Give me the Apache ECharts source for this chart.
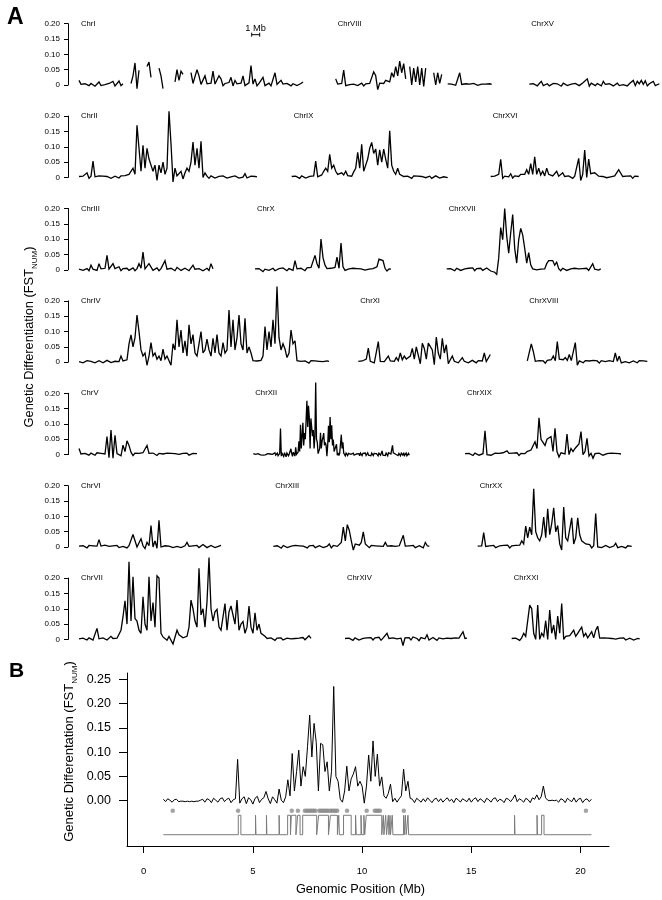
<!DOCTYPE html>
<html><head><meta charset="utf-8">
<script src="https://cdn.jsdelivr.net/npm/echarts@6/dist/echarts.min.js"></script>
<style>html,body{margin:0;padding:0;background:#fff}#c{width:662px;height:900px}</style>
</head><body><div id="c"></div>
<script>
// ---------- DATA (FST_NUM per window) ----------
const STEP_A = 0.25; // Mb between windows, panel A arrays
const chrI = [.015,.002,-.003,.004,.001,-.002,.005,.003,-.004,.002,.01,-.002,.004,.001,-.003,.005,.002,.012,-.003,.003,.013,-.002,.004,
null,null,null,.005,.03,.072,-.012,.048,null,null,null,.06,.075,.025,null,null,null,.055,.03,-.012,null,null,null,null,null,
.01,.05,.015,.045,.035,null,null,null,
.04,.005,.01,.05,.03,.002,.008,.03,.004,-.002,.006,.045,.003,.008,.03,.02,-.002,.005,.003,.008,.025,-.003,.015,.004,.002,.006,.03,-.002,.004,.007,.063,.003,.02,-.003,.005,.002,.025,-.002,.004,.006,-.003,.003,.04,.002,-.004,.015,.003,-.002,.005,.002,-.003,.004,.01,-.002,.003,.005,.01];
const chrVIII = [.02,.003,-.003,.005,.049,-.002,.004,.001,-.004,.003,.005,-.002,.002,.006,-.003,.004,.002,.005,.003,.043,.03,-.015,.006,.01,.005,.015,.02,.01,.04,.025,.06,.03,.078,.04,.07,.02,
null,.06,0,.055,.01,.06,0,.055,-.005,.055,null,null,null,.04,0,.04,.005,.035,null,null,
.004,-.002,.003,.005,-.001,.003,.04,.002,-.003,.004,.001,.003,-.002,.005,.002,-.001,.004,.003,-.002,.003,.001,.004,.002];
const chrXV = [.003,-.002,.004,.001,-.003,.005,.012,-.002,.003,.004,-.003,.002,.005,-.001,.004,.003,-.004,.006,.002,-.002,
.004,.003,-.003,.005,.006,-.002,.004,.008,.003,.02,-.004,.006,.003,-.002,.005,.004,-.003,.012,.002,-.001,
.004,.005,-.003,.003,.006,-.002,.004,.001,.005,-.003,.004,.007,.015,-.002,.012,.004,.015,.002,.014,-.003,.004,.005,.012,-.002,.003,.004];
const chrII = [.003,-.002,.004,.002,.015,-.003,.004,.053,.002,-.003,.005,.001,.004,-.002,.003,.006,-.003,.002,.004,.001,-.002,.005,.003,.006,.002,
.01,.005,.03,.01,.17,.095,.02,.105,.03,.095,.06,.04,.02,.04,-.01,.04,.015,.05,.01,.03,.216,.11,-.015,
.03,.005,.01,.02,-.005,.015,.03,.02,.05,.115,.04,.095,.03,.118,
0,.015,.004,-.003,.005,.002,-.002,.004,.003,-.003,.005,.001,-.002,.004,.002,-.003,.005,.003,-.002,.004,.001,.012,-.002,.003,.004,-.001,.003,.002];
const chrIX = [.003,-.002,.004,.001,-.003,.005,.002,-.002,.004,.003,-.001,.005,.053,.002,.004,.008,.02,.03,.02,.075,.03,.04,.02,
.01,.005,.015,.008,.02,.006,.012,.004,.018,
.03,.082,.03,.108,.02,.04,.06,.095,.114,.078,.093,.04,.09,.05,.092,.06,.03,.152,.04,.02,.01,.03,.01,.005,
.003,-.002,.004,.002,-.003,.005,.001,.004,-.002,.003,.005,-.001,.002,.004,-.003,.003,.005,.001,-.002,.004,.002,.003,-.001];
const chrXVI = [.003,-.002,.004,.002,.01,.059,-.003,.004,.006,.002,.012,-.002,.005,.008,.003,.01,.004,
.01,.025,.01,.045,.01,.067,.01,.03,.008,.02,.005,.03,.01,.015,.005,.008,.02,.004,.008,.015,
.003,-.002,.005,.006,-.003,.004,.008,.062,-.01,.01,.089,0,.06,.012,.008,.015,.01,
.004,-.002,.003,.005,-.001,.004,.002,-.003,.005,.003,.025,.025,.003,-.002,.004,.001,.005,-.003,.004,.002,.003];
const chrIII = [.002,.005,-.002,.003,.004,-.003,.015,.002,.004,-.002,.02,.003,-.003,.005,.047,.002,-.002,.02,.004,.001,.01,-.003,.004,.002,.005,-.002,.003,.006,-.003,.004,
.02,.005,.058,.003,.008,.02,.025,-.002,.004,.006,-.003,.004,.008,.03,.002,-.002,.005,.003,-.003,.008,.002,-.002,.004,.005,.01,-.003,.003,.015,.002,-.002,.004,.008,-.003,.003,.005,-.002,.02,.003];
const chrX = [.003,-.002,.004,.001,-.006,.002,.004,-.002,.003,.005,-.003,.002,.004,-.002,.006,.001,-.003,.004,.005,-.002,.03,.003,-.002,.005,.004,-.003,.006,.003,.008,.01,
.047,.02,.005,.1,.04,.015,.004,-.002,.005,.003,.008,.041,.005,.087,.01,-.002,.004,.003,-.003,.005,.002,.004,-.002,.003,.005,-.001,.004,.002,-.003,.004,.003,.01,.035,.04,.03,.005,-.004,.003,.002];
const chrXVII = [.003,-.002,.004,.002,-.003,.005,.001,-.002,.004,.003,-.002,.005,.002,.006,-.003,.004,.001,.005,-.002,.003,.006,.004,-.004,.002,-.008,-.015,
.038,.138,.098,.2,.11,.054,.12,.18,.07,.022,.098,.135,.114,.07,.022,.056,.016,.003,
.001,0,.001,.002,.001,.003,.02,.03,.025,.03,.015,.025,
.004,-.003,.005,.002,-.002,.004,.003,-.002,.005,.001,.003,-.003,.004,.002,.005,-.002,.003,.02,.002,.004,-.001,.003];
const chrIV = [.002,.004,-.002,.003,.005,-.001,.003,.004,-.002,.002,.005,.003,-.002,.004,.006,.002,-.001,.004,.003,.005,.002,.02,.004,.003,.008,
.06,.089,.05,.08,.154,.1,.04,.02,.03,-.01,.02,.064,.02,.03,.01,.02,.005,.043,.01,.02,.024,-.01,.06,.04,.138,.05,.105,.03,.07,.02,
.122,.06,.09,.03,.02,.06,.1,.03,.04,.075,.04,.02,.078,.03,.09,.03,.02,.064,.03,.04,.17,.05,.138,.04,.08,.154,.06,.04,.143,.03,.05,.03,
.005,.008,.004,.01,.006,.02,.116,.04,.1,.05,.138,.06,.247,.08,.04,.06,.043,.015,.03,.105,.06,.07,.005,.002,
.003,-.002,.004,.002,-.003,.005,.001,.004,-.002,.003,.005,.002,-.002,.004,.003];
const chrXI = [.003,-.002,.004,.002,.01,.046,.003,.005,-.002,.004,.067,.003,.006,.002,.008,.02,.004,.006,.003,.015,.005,.03,.008,.02,.01,.015,
.02,.045,.01,.05,.055,-.005,.062,.045,.01,.062,.067,.04,-.008,.082,.03,.01,.078,.03,.057,-.005,
.008,.02,.003,.005,-.002,.004,.015,.003,.005,-.002,.004,.006,.002,-.002,.005,.003,.004,.03,.002,.005,.025];
const chrXVIII = [.004,.002,.06,.035,.003,-.002,.005,.002,.004,-.003,.006,.003,.008,.02,.005,.067,.01,.004,.008,.015,.006,.025,.005,.01,.064,-.01,
.004,.002,-.002,.005,.003,.004,-.002,.006,.002,.004,-.003,.005,.003,.002,-.002,.005,.004,.002,.03,.003,.02,-.002,.004,.002,.005,-.002,.003,.004,.001,-.002,.005,.003,.004,-.001,.003];
const chrV = [.02,.002,-.003,.004,.001,-.002,.005,.003,-.002,.006,.002,.004,.008,.002,.059,-.01,.08,-.012,.063,.003,.005,-.004,.031,.01,.045,.03,.008,-.003,.005,.002,
.004,-.002,.006,.01,.03,.004,-.002,.005,.003,-.003,.004,.006,.002,-.002,.005,.003,.004,-.002,.003,.005,.001,-.003,.004,.002,.005,-.002,.003,.004,.001,.003];
const chrXIX = [.003,-.002,.004,.002,-.003,.005,.002,-.002,.004,.003,.078,0,.004,-.002,.003,.005,-.001,.004,.002,.006,.008,.012,.004,-.002,.005,.003,.006,-.003,.004,.008,
.003,.01,.006,.015,.02,.042,.02,.12,.05,.04,.03,.05,.056,.059,.01,.086,.01,-.008,.006,.01,.002,.067,0,.02,.01,.02,.015,.035,.075,0,.01,.053,-.005,.004,-.012,
.003,.002,.005,.008,-.002,.004,.003,-.002,.005,.002,.004,-.002,.003,.002];
const chrVI = [.003,-.002,.004,.001,-.003,.005,.002,.004,-.002,.003,.024,.003,-.002,.006,.01,.002,-.003,.004,.003,.005,-.002,.004,.002,.006,-.003,.004,.008,
.041,.035,0,.006,.027,.004,-.005,.015,.004,.07,0,.02,-.004,.087,0,.006,.004,.01,.003,.008,-.002,.004,.002,.005,-.002,.003,.004,.015,.002,-.002,.004,.003,.005,-.002,.004,.008,.002,-.002,.003,.005,.002,-.002,.004,.003,.005];
const chrXIII = [.002,-.003,.004,.001,-.004,.005,.002,-.002,.004,.003,-.003,.005,.002,.004,-.002,.003,.006,-.003,.004,.002,.005,-.002,.003,.004,.01,-.002,.004,.003,.01,-.003,
.005,.004,.002,.008,.015,.065,.02,.073,.054,.02,-.01,.01,.004,.006,.015,.049,.01,.004,-.002,.005,.003,.004,-.002,.003,.005,.002,.015,.003,-.002,.004,
.006,.002,-.002,.004,.008,.038,.003,-.002,.004,.002,.005,-.002,.003,.004,.002,-.003,.015,.004,.002];
const chrXX = [.003,-.002,.004,.047,.002,-.003,.004,.002,.005,-.002,.003,.004,-.002,.005,.003,.006,-.003,.004,.008,.005,.01,.006,.02,.01,
.068,.03,.065,.04,.19,.05,.03,.02,.04,.098,.03,.125,.04,.076,.128,.05,.07,.01,-.01,.13,.03,.02,.02,.095,.01,.03,.095,.04,.02,.02,.01,.005,.008,-.003,.004,.109,0,
.004,-.002,.003,.005,.002,-.002,.004,.003,.012,-.002,.004,.002,.005,-.003,.004,.003,.002];
const chrVII = [.002,-.003,.004,.001,-.002,.005,.003,-.002,.004,.036,.002,-.003,.005,.002,-.002,.004,.01,.003,-.002,.004,.008,
.03,.074,.126,.05,.253,.06,.204,.068,.06,.03,.02,.139,.05,.03,.204,.06,.12,.04,.207,.2,.02,.008,.01,-.003,.01,.004,-.015,-.012,.03,.015,.02,.005,0,
.01,.04,.128,.1,.06,.04,.232,.08,.1,.04,.123,.267,.1,.06,.09,.098,.04,
.03,.03,.117,.03,.09,.109,.104,.05,.128,.03,.05,.058,.02,.04,.109,.04,.02,.087,.03,.05,.02,.02,.01,
.003,-.002,.005,.002,-.003,.004,.001,.005,-.002,.003,.004,-.002,.002,.005,.003,-.002,.004,.002,.006,-.001,.004,.012,.003];
const chrXIV = [.003,-.002,.004,.002,-.003,.005,.002,-.002,.004,.003,-.002,.005,.004,.006,-.002,.005,.003,.007,-.003,.004,.006,.02,.003,-.002,.005,.004,.002,-.003,.004,-.02,
.005,.003,.006,-.002,.008,.004,.003,-.004,.006,.005,.002,.015,-.002,.004,.006,.003,-.003,.005,.008,.002,-.002,.004,.006,.003,-.003,.005,.002,.004,-.002,.025,.003,.004];
const chrXXI = [.003,-.002,.004,.002,-.003,.005,.02,.01,.004,.112,.1,.02,0,.112,0,.02,.01,.061,0,.096,.02,.047,0,.076,.02,.117,0,.01,.005,.012,
.008,.03,.01,.02,.03,.04,.01,.02,.005,.01,.025,.005,.03,.043,.004,-.002,.005,.002,.004,-.002,.003,.005,.001,-.002,.004,.003,.005,-.002,.003,.004,.002,-.002,.004,.003,.002];
// ChrXII (panel A row 5 and panel B), 0.1 Mb windows starting at 0.9 Mb
const CHRXII_START = 0.9, CHRXII_STEP = 0.1;
const chrXII = [.003,-.002,.004,.001,-.003,.002,.003,-.002,
-.001,-.001,-.002,-.001,-.002,-.001,-.002,-.001,-.001,.001,
.003,-.003,.004,.002,-.004,.005,.001,-.003,.004,.006,-.002,.003,.005,-.004,.002,.004,
.085,
-.005,.004,.008,-.006,.006,.002,-.007,.005,.009,-.004,.003,.006,.019,.004,-.006,.008,.002,-.005,.024,.001,-.004,.008,
.043,.01,.097,.02,.06,.104,.03,.07,.05,.111,.176,.09,.159,.12,.02,.118,.115,.06,.08,.02,.06,.235,.05,.04,.003,-.003,.02,.071,.02,.045,.055,.07,.03,.04,.03,-.005,.03,.094,.04,.123,.05,.096,.03,.049,.01,.005,.015,.034,-.002,.005,-.003,.004,.01,.065,.02,.04,.005,
.003,-.004,.005,.001,-.003,.004,-.002,.006,.001,-.004,.003,.005,-.002,.004,-.003,.002,.006,-.001,.003,-.004,.005,.002,-.003,.004,.001,-.002,.005,-.003,.003,.006,-.002,.004,.001,-.004,.005,.002,-.003,.004,.006,-.002,.003,.001,-.004,.005,.003,-.002,.004,
.012,-.002,.004,.001,-.003,.005,.002,-.004,.006,.003,
.012,.002,.008,.03,.006,.001,0,.001,0,.001,
-.003,.004,.002,-.004,.005,.001,-.002,.006,-.003,.003,.005,-.004,.002,.004,-.002,.003];
// Panel B annotations: grey dots (Mb) and high-state intervals (Mb)
const dotPositions = [1.33,4.32,6.78,7.06,7.38,7.46,7.54,7.62,7.70,7.78,7.86,8.04,8.12,8.20,8.28,8.36,8.44,8.54,8.62,8.70,8.78,8.86,9.31,10.21,10.58,10.66,10.74,10.82,11.91,20.25];
const highIntervals = [[4.33,4.45],[5.12,5.14],[5.62,5.64],[6.2,6.22],[6.59,6.72],[6.76,6.97],[7.05,7.16],[7.28,7.92],[8.01,8.46],[8.55,8.87],[8.93,8.96],[9.15,9.5],[9.7,9.73],[9.95,9.98],[10.08,10.12],[10.19,10.9],[10.97,11.0],[11.08,11.12],[11.2,11.23],[11.28,11.3],[11.38,11.41],[11.9,11.93],[11.98,12.02],[12.1,12.13],[16.98,17.0],[18.01,18.03],[18.22,18.33]];
const yTicksA = [0,0.05,0.1,0.15,0.2];
const yTicksB = [0,0.05,0.1,0.15,0.2,0.25];
const xTicksB = [0,5,10,15,20];

// ---------- LAYOUT ----------
const FONT = 'Liberation Sans, Arial, sans-serif';
const PX_PER_MB = 8;
const ROW_ZERO0 = 85, ROW_GAP = 92.4, ROW_H = 61.3;
const layout = [
 ['ChrI', chrI, 0, 79], ['ChrVIII', chrVIII, 0, 335.7], ['ChrXV', chrXV, 0, 529.3],
 ['ChrII', chrII, 1, 79], ['ChrIX', chrIX, 1, 291.7], ['ChrXVI', chrXVI, 1, 490.7],
 ['ChrIII', chrIII, 2, 79], ['ChrX', chrX, 2, 255], ['ChrXVII', chrXVII, 2, 446.7],
 ['ChrIV', chrIV, 3, 79], ['ChrXI', chrXI, 3, 358.3], ['ChrXVIII', chrXVIII, 3, 527.3],
 ['ChrV', chrV, 4, 79], ['ChrXII', chrXII, 4, 253.3, CHRXII_START, CHRXII_STEP], ['ChrXIX', chrXIX, 4, 465],
 ['ChrVI', chrVI, 5, 79], ['ChrXIII', chrXIII, 5, 273.3], ['ChrXX', chrXX, 5, 477.7],
 ['ChrVII', chrVII, 6, 79], ['ChrXIV', chrXIV, 6, 345], ['ChrXXI', chrXXI, 6, 511.7]
];

const grid = [], xAxis = [], yAxis = [], series = [], graphic = [];
const G = (o) => Object.assign({containLabel:false, outerBoundsMode:'none'}, o);

for (let r = 0; r < 7; r++) {
  const top = ROW_ZERO0 + r * ROW_GAP - ROW_H;
  const gi = grid.length;
  grid.push(G({left:68, top:top, width:10, height:ROW_H}));
  xAxis.push({type:'value', gridIndex:gi, min:0, max:1, show:false});
  yAxis.push({type:'value', gridIndex:gi, min:0, max:0.2, position:'left',
    axisLine:{show:true, lineStyle:{color:'#000', width:1}},
    axisTick:{show:true, length:4, lineStyle:{color:'#000', width:1}, customValues:yTicksA},
    axisLabel:{show:true, margin:8, fontSize:8, color:'#000', fontFamily:FONT, customValues:yTicksA,
      formatter:(v)=> v === 0 ? '0' : v.toFixed(2)},
    splitLine:{show:false}});
}

layout.forEach(([name, vals, row, left, start, step]) => {
  start = start === undefined ? 0 : start;
  step = step === undefined ? STEP_A : step;
  const top = ROW_ZERO0 + row * ROW_GAP - ROW_H;
  const len = (vals.length - 1) * step;
  const gi = grid.length;
  grid.push(G({left:left, top:top, width:len * PX_PER_MB, height:ROW_H}));
  xAxis.push({type:'value', gridIndex:gi, min:start, max:start + len, show:false});
  yAxis.push({type:'value', gridIndex:gi, min:0, max:0.2, show:false});
  series.push({type:'line', xAxisIndex:gi, yAxisIndex:gi, symbol:'none', showSymbol:false, clip:false,
    connectNulls:false, silent:true, animation:false,
    lineStyle:{color:'#000', width:1.3, join:'miter', miterLimit:3},
    data: vals.map((v, i) => [start + i * step, v === null ? '-' : v])});
  graphic.push({type:'text', x:left + 2, y:top, silent:true,
    style:{text:name, fontSize:7.7, fontFamily:FONT, fill:'#000', align:'left', verticalAlign:'middle'}});
});

// Panel B
const bi = grid.length;
grid.push(G({left:127, top:673, width:482, height:173}));
xAxis.push({type:'value', gridIndex:bi, min:-0.7647, max:21.305,
  axisLine:{show:true, onZero:false, lineStyle:{color:'#000', width:1}},
  axisTick:{show:true, length:7, customValues:xTicksB, lineStyle:{color:'#000'}},
  axisLabel:{show:true, margin:20, fontSize:9.5, color:'#000', fontFamily:FONT, customValues:xTicksB},
  splitLine:{show:false}});
yAxis.push({type:'value', gridIndex:bi, min:-0.09321, max:0.26276,
  axisLine:{show:true, onZero:false, lineStyle:{color:'#000', width:1}},
  axisTick:{show:true, length:8, customValues:yTicksB, lineStyle:{color:'#000'}},
  axisLabel:{show:true, margin:16, fontSize:12.5, color:'#000', fontFamily:FONT, customValues:yTicksB,
    formatter:(v)=> v.toFixed(2)},
  splitLine:{show:false}});
series.push({type:'line', xAxisIndex:bi, yAxisIndex:bi, symbol:'none', showSymbol:false, silent:true, animation:false,
  lineStyle:{color:'#000', width:1},
  data: chrXII.map((v, i) => [CHRXII_START + i * CHRXII_STEP, v])});
const DOT_LEVEL = -0.0205, LOW = -0.07, HIGH = -0.03;
series.push({type:'scatter', xAxisIndex:bi, yAxisIndex:bi, symbol:'circle', symbolSize:4.5, silent:true, animation:false,
  itemStyle:{color:'#8c8c8c'},
  data: dotPositions.map(p => [p, DOT_LEVEL])});
const chrXIIEnd = CHRXII_START + (chrXII.length - 1) * CHRXII_STEP;
const stepPts = [[CHRXII_START, LOW]];
highIntervals.forEach(([a, b]) => { stepPts.push([a, LOW], [a, HIGH], [b, HIGH], [b, LOW]); });
stepPts.push([chrXIIEnd, LOW]);
series.push({type:'line', xAxisIndex:bi, yAxisIndex:bi, symbol:'none', showSymbol:false, silent:true, animation:false,
  lineStyle:{color:'#7a7a7a', width:1}, data: stepPts});

// Text and annotations
graphic.push(
  {type:'text', x:7, y:6, style:{text:'A', fontSize:23, fontWeight:'bold', fontFamily:FONT, fill:'#000'}},
  {type:'text', x:9, y:661, style:{text:'B', fontSize:21, fontWeight:'bold', fontFamily:FONT, fill:'#000'}},
  {type:'text', x:29, y:337, rotation:Math.PI/2, style:{text:'Genetic Differentiation (FST{sub|NUM})', fontSize:12.8, lineHeight:20,
    fontFamily:FONT, fill:'#000', align:'center', verticalAlign:'middle',
    rich:{sub:{fontSize:8, lineHeight:20, verticalAlign:'bottom', fontFamily:FONT, fill:'#000'}}}},
  {type:'text', x:69, y:751.5, rotation:Math.PI/2, style:{text:'Genetic Differentation (FST{sub|NUM})', fontSize:13, lineHeight:20,
    fontFamily:FONT, fill:'#000', align:'center', verticalAlign:'middle',
    rich:{sub:{fontSize:8, lineHeight:20, verticalAlign:'bottom', fontFamily:FONT, fill:'#000'}}}},
  {type:'text', x:360.5, y:889, style:{text:'Genomic Position (Mb)', fontSize:12.7, fontFamily:FONT, fill:'#000', align:'center', verticalAlign:'middle'}},
  {type:'text', x:255.7, y:28, style:{text:'1 Mb', fontSize:9.3, fontFamily:FONT, fill:'#000', align:'center', verticalAlign:'middle'}},
  {type:'line', shape:{x1:251.7, y1:34.7, x2:259.7, y2:34.7}, style:{stroke:'#000', lineWidth:1}},
  {type:'line', shape:{x1:251.7, y1:32.7, x2:251.7, y2:36.7}, style:{stroke:'#000', lineWidth:1}},
  {type:'line', shape:{x1:259.7, y1:32.7, x2:259.7, y2:36.7}, style:{stroke:'#000', lineWidth:1}}
);

const chart = echarts.init(document.getElementById('c'), null, {renderer:'canvas', width:662, height:900});
chart.setOption({backgroundColor:'#fff', animation:false, grid, xAxis, yAxis, series, graphic});
</script>
</body></html>
